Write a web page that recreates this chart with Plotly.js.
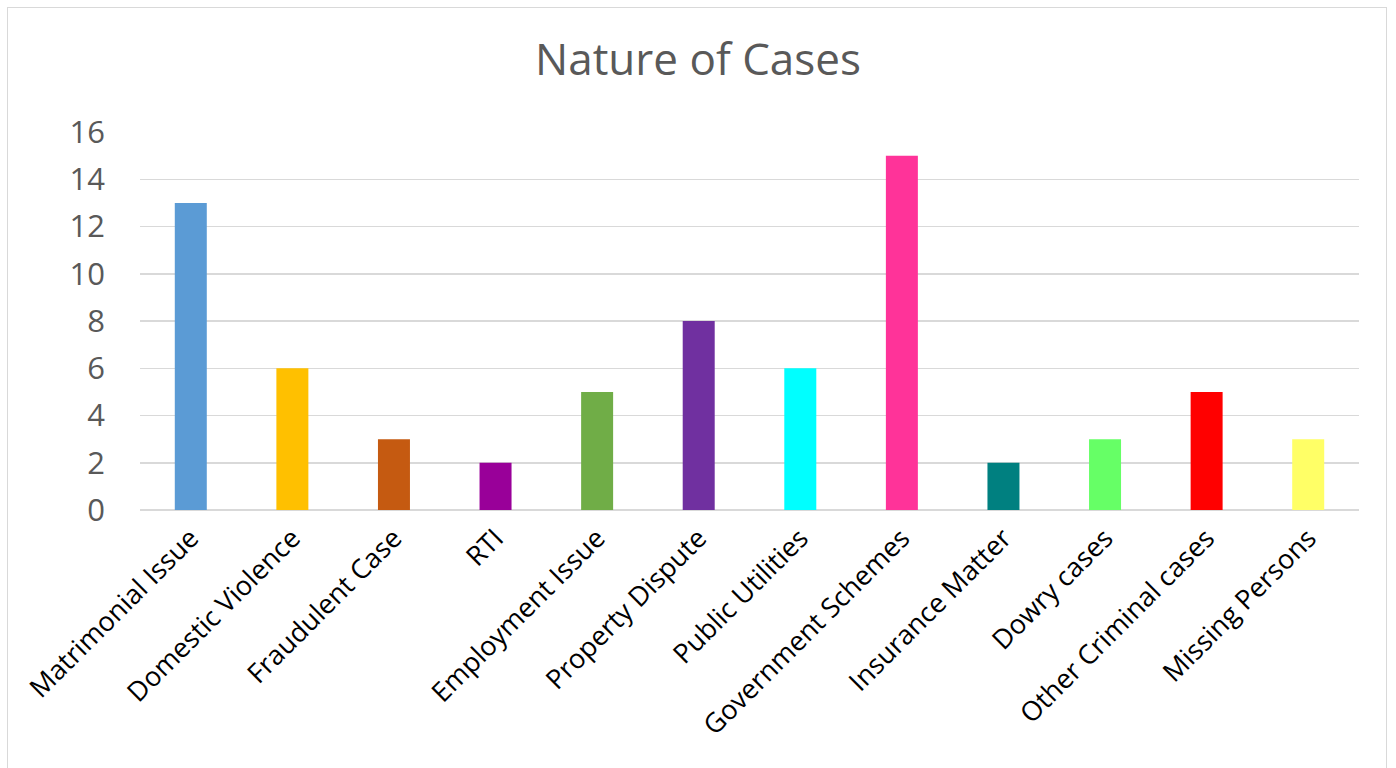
<!DOCTYPE html>
<html>
<head>
<meta charset="utf-8">
<script src="https://cdn.plot.ly/plotly-3.0.1.min.js"></script>
<style>
  html, body { margin: 0; padding: 0; background: #fff; }
  #chart { width: 1396px; height: 768px; position: relative; }
  #frame { position: absolute; left: 7px; top: 7px; width: 1380px; height: 780px;
           border: 1.5px solid #d9d9d9; pointer-events: none; box-sizing: border-box; }
</style>
</head>
<body>
<div id="chart"></div>
<div id="frame"></div>
<script>
const categories = ["Matrimonial Issue", "Domestic Violence", "Fraudulent Case", "RTI",
  "Employment Issue", "Property Dispute", "Public Utilities", "Government Schemes",
  "Insurance Matter", "Dowry cases", "Other Criminal cases", "Missing Persons"];
const caseCounts = [13, 6, 3, 2, 5, 8, 6, 15, 2, 3, 5, 3];
const barColors = ["#5B9BD5", "#FFC000", "#C55A11", "#990099", "#70AD47", "#7030A0",
  "#00FFFF", "#FF3399", "#008080", "#66FF66", "#FF0000", "#FFFF66"];
const yTicks = [0, 2, 4, 6, 8, 10, 12, 14, 16];

const trace = {
  type: "bar",
  x: categories,
  y: caseCounts,
  marker: { color: barColors, line: { width: 0 } },
  hoverinfo: "x+y"
};

const layout = {
  width: 1396, height: 768,
  margin: { l: 140, r: 37, t: 132, b: 258 },
  paper_bgcolor: "#ffffff", plot_bgcolor: "#ffffff",
  title: { text: "Nature of Cases", x: 0.5, xref: "container", xanchor: "center",
           y: 0.922, yref: "container", yanchor: "middle",
           font: { family: "Open Sans", size: 44, color: "#595959" } },
  bargap: 0.685,
  showlegend: false,
  xaxis: {
    type: "category",
    tickangle: -45,
    tickfont: { family: "Open Sans", size: 27, color: "#000000" },
    showgrid: false, zeroline: false, showline: false, ticks: "",
    ticklabelstandoff: 6
  },
  yaxis: {
    range: [0, 16], tickvals: yTicks, ticktext: yTicks.map(String),
    tickfont: { family: "Open Sans", size: 31, color: "#595959" },
    showgrid: true, gridcolor: "#d9d9d9", gridwidth: 1.5,
    zeroline: true, zerolinecolor: "#d9d9d9", zerolinewidth: 1.5,
    showline: false, ticks: "", ticklabelstandoff: 34
  }
};

Plotly.newPlot("chart", [trace], layout, { displayModeBar: false, staticPlot: true });
</script>
</body>
</html>
